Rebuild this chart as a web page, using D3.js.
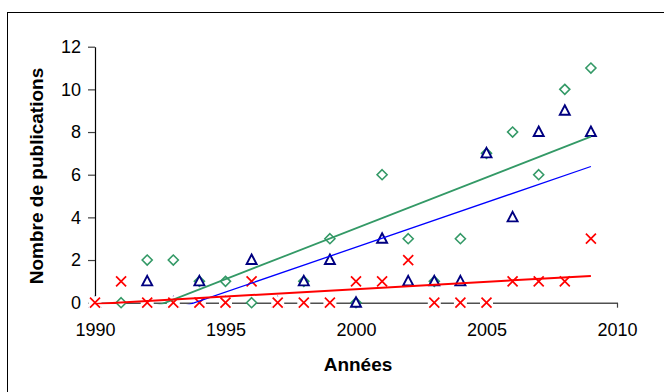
<!DOCTYPE html>
<html><head><meta charset="utf-8">
<script src="https://cdn.jsdelivr.net/npm/d3@7"></script>
<style>
html,body{margin:0;padding:0;background:#fff;}
svg{display:block;font-family:"Liberation Sans",Arial,sans-serif;}
</style></head>
<body>
<svg id="chart" width="664" height="392"></svg>
<script>
const years = [1990,1991,1992,1993,1994,1995,1996,1997,1998,1999,2000,2001,2002,2003,2004,2005,2006,2007,2008,2009];
const greenSeries = [0,0,2,2,1,1,0,0,1,3,0,6,3,1,3,7,8,6,10,11];
const blueSeries  = [0,null,1,0,1,0,2,0,1,2,0,3,1,1,1,7,4,8,9,8];
const redSeries   = [0,1,0,0,0,0,1,0,0,0,1,1,2,0,0,0,1,1,1,3];
const xTicks = [1990,1995,2000,2005,2010];
const yTicks = [0,2,4,6,8,10,12];
const xTitle = "Années";
const yTitle = "Nombre de publications";

const svg = d3.select("#chart");
const x = d3.scaleLinear().domain([1990,2010]).range([95,617]);
const y = d3.scaleLinear().domain([0,12]).range([302.7,46.7]);

// outer frame (cropped at right/bottom)
svg.append("rect").attr("x",7.5).attr("y",12.5).attr("width",720).attr("height",420)
  .attr("fill","none").attr("stroke","#000").attr("stroke-width",1);

// clip for plot area
svg.append("clipPath").attr("id","plotclip").append("rect")
  .attr("x",x(1990)).attr("y",y(12)).attr("width",x(2010)-x(1990)).attr("height",y(0)-y(12)+1.5);

// X axis
const xAxis = svg.append("g").attr("transform",`translate(0,${y(0)})`)
  .call(d3.axisBottom(x).tickValues(xTicks).tickFormat(d3.format("d")).tickSize(5).tickSizeOuter(0).tickPadding(16));
xAxis.select(".domain").attr("stroke","#505050").attr("stroke-width",1.6);
xAxis.selectAll(".tick line").attr("stroke","#404040").attr("stroke-width",1.2);
xAxis.selectAll("text").attr("font-size",18).attr("fill","#000").attr("font-family","'Liberation Sans',Arial,sans-serif");

// Y axis
const yAxis = svg.append("g").attr("transform",`translate(${x(1990)},0)`)
  .call(d3.axisLeft(y).tickValues(yTicks).tickSize(7).tickSizeOuter(0).tickPadding(7));
yAxis.select(".domain").attr("stroke","#000").attr("stroke-width",1.2);
yAxis.selectAll(".tick line").attr("stroke","#404040").attr("stroke-width",1.2);
yAxis.selectAll("text").attr("font-size",18).attr("fill","#000").attr("font-family","'Liberation Sans',Arial,sans-serif");

// titles
svg.append("text").attr("x",358).attr("y",371).attr("text-anchor","middle")
  .attr("font-size",19).attr("font-weight","bold").text(xTitle);
svg.append("text").attr("transform","translate(43,176) rotate(-90)").attr("text-anchor","middle")
  .attr("font-size",19).attr("font-weight","bold").text(yTitle);

function pts(vals){ return years.map((yr,i)=>({yr, v: vals[i]})).filter(d=>d.v!==null); }

// green diamonds
const gG = svg.append("g");
gG.selectAll("path").data(pts(greenSeries)).join("path")
  .attr("transform",d=>`translate(${x(d.yr)},${y(d.v)})`)
  .attr("d","M0,-5L5,0L0,5L-5,0Z")
  .attr("fill","#fff").attr("stroke","#339966").attr("stroke-width",1.6);

// blue triangles
const gB = svg.append("g");
gB.selectAll("path").data(pts(blueSeries)).join("path")
  .attr("transform",d=>`translate(${x(d.yr)},${y(d.v)})`)
  .attr("d","M0,-5.5L5,4L-5,4Z")
  .attr("fill","#fff").attr("stroke","#000080").attr("stroke-width",1.9);

// red crosses
const gR = svg.append("g");
const rp = gR.selectAll("g").data(pts(redSeries)).join("g")
  .attr("transform",d=>`translate(${x(d.yr)},${y(d.v)})`);
rp.append("rect").attr("x",-6.5).attr("y",-6.5).attr("width",13).attr("height",13).attr("fill","#fff");
rp.append("path").attr("d","M-5,-5L5,5M-5,5L5,-5")
  .attr("stroke","#ff0000").attr("stroke-width",1.7).attr("fill","none");

// linear trendlines computed from data
function trend(vals){
  const p = pts(vals);
  const mx = d3.mean(p,d=>d.yr), my = d3.mean(p,d=>d.v);
  const sxy = d3.sum(p,d=>(d.yr-mx)*(d.v-my));
  const sxx = d3.sum(p,d=>(d.yr-mx)*(d.yr-mx));
  const b = sxy/sxx, a = my - b*mx;
  const x0 = d3.min(p,d=>d.yr), x1 = d3.max(p,d=>d.yr);
  return [[x0,a+b*x0],[x1,a+b*x1]];
}
const line = d3.line().x(d=>x(d[0])).y(d=>y(d[1]));
const gT = svg.append("g").attr("clip-path","url(#plotclip)");
gT.append("path").attr("d",line(trend(greenSeries))).attr("stroke","#339966").attr("stroke-width",1.8).attr("fill","none");
gT.append("path").attr("d",line(trend(blueSeries))).attr("stroke","#0000ff").attr("stroke-width",1.3).attr("fill","none");
gT.append("path").attr("d",line(trend(redSeries))).attr("stroke","#ff0000").attr("stroke-width",2).attr("fill","none");
</script>
</body></html>
